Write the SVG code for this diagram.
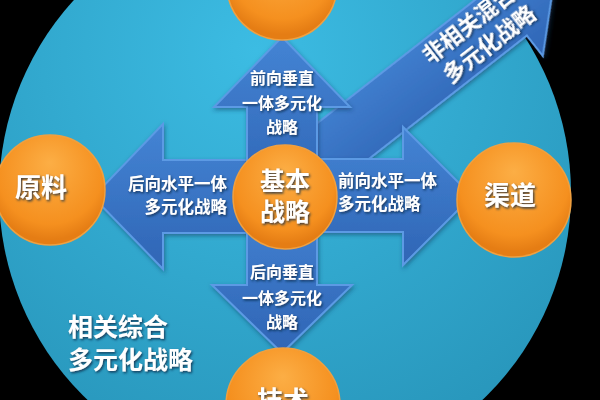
<svg xmlns="http://www.w3.org/2000/svg" width="600" height="400" viewBox="0 0 600 400">
  <defs>
    <radialGradient id="bigG" cx="45%" cy="25%" r="75%">
      <stop offset="0" stop-color="#3cbce3"/>
      <stop offset="1" stop-color="#2896bb"/>
    </radialGradient>
    <radialGradient id="orG" cx="50%" cy="35%" r="60%" fx="50%" fy="25%">
      <stop offset="0" stop-color="#fcae45"/>
      <stop offset="0.8" stop-color="#f5901f"/>
      <stop offset="1" stop-color="#e57d14"/>
    </radialGradient>
    <linearGradient id="arG" x1="0" y1="0" x2="0" y2="1">
      <stop offset="0" stop-color="#4484d4"/>
      <stop offset="1" stop-color="#2f65b5"/>
    </linearGradient>
    <filter id="sh" x="-20%" y="-20%" width="140%" height="140%">
      <feDropShadow dx="1.2" dy="1.5" stdDeviation="0.9" flood-color="#102a4a" flood-opacity="0.85"/>
    </filter>
    <filter id="ash" x="-10%" y="-10%" width="120%" height="120%">
      <feDropShadow dx="1" dy="2" stdDeviation="2" flood-color="#0d2e55" flood-opacity="0.5"/>
    </filter>
  </defs>
  <style>
    .arrow { fill: url(#arG); stroke: #5b9ae4; stroke-width: 2; stroke-linejoin: miter; filter: url(#ash); }
    .node { fill: url(#orG); stroke: #f0a040; stroke-width: 1.5; }
    text { font-family: "Noto Sans CJK SC", "Noto Sans", sans-serif; font-weight: 700; fill: #ffffff; filter: url(#sh); }
    .lbl { font-size: 16px; text-anchor: middle; }
    .hl { font-size: 16.5px; }
    .big { font-size: 26px; text-anchor: middle; }
    .ctr { font-size: 25px; text-anchor: middle; }
    .note { font-size: 25px; }
    .diag { font-size: 22px; }
  </style>

  <rect x="0" y="0" width="600" height="400" fill="#000000"/>
  <circle cx="285" cy="193" r="286" fill="url(#bigG)"/>

  <g id="connectors">
    <g id="arrow-diagonal" transform="translate(283,188) rotate(-38)">
      <polygon class="arrow" points="0,-30 286,-30 286,-56 345,0 286,56 286,30 0,30"/>
      <text class="diag" x="192" y="-7">非相关混合</text>
      <text class="diag" x="196" y="21">多元化战略</text>
    </g>
    <g id="arrow-left">
      <polygon class="arrow" points="283,160 163,160 163,124 93,197 163,269 163,233 283,233"/>
      <text class="hl" x="227" y="190" text-anchor="end">后向水平一体</text>
      <text class="hl" x="227" y="213" text-anchor="end">多元化战略</text>
    </g>
    <g id="arrow-right">
      <polygon class="arrow" points="283,159 403,159 403,127 472,196 403,265 403,232 283,232"/>
      <text class="hl" x="338" y="187">前向水平一体</text>
      <text class="hl" x="338" y="210">多元化战略</text>
    </g>
    <g id="arrow-up">
      <polygon class="arrow" points="247,195 247,107 214,107 282,37 350,107 317,107 317,195"/>
      <text class="lbl" x="282" y="84">前向垂直</text>
      <text class="lbl" x="282" y="109">一体多元化</text>
      <text class="lbl" x="282" y="133">战略</text>
    </g>
    <g id="arrow-down">
      <polygon class="arrow" points="247,195 247,285 212,285 282,353 352,285 317,285 317,195"/>
      <text class="lbl" x="282" y="278">后向垂直</text>
      <text class="lbl" x="282" y="304">一体多元化</text>
      <text class="lbl" x="282" y="328">战略</text>
    </g>
  </g>

  <g id="node-top">
    <circle class="node" cx="282" cy="-15" r="55"/>
  </g>
  <g id="node-left">
    <circle class="node" cx="50" cy="190" r="55"/>
    <text class="big" x="41" y="197">原料</text>
  </g>
  <g id="node-right">
    <circle class="node" cx="514" cy="200" r="57"/>
    <text class="big" x="510" y="205">渠道</text>
  </g>
  <g id="node-bottom">
    <circle class="node" cx="283" cy="405" r="57"/>
    <text class="big" x="283" y="410">技术</text>
  </g>
  <g id="node-center">
    <circle class="node" cx="285" cy="197" r="52"/>
    <text class="ctr" x="285" y="190">基本</text>
    <text class="ctr" x="285" y="221">战略</text>
  </g>

  <g id="note">
    <text class="note" x="68" y="336">相关综合</text>
    <text class="note" x="68" y="369">多元化战略</text>
  </g>
</svg>
